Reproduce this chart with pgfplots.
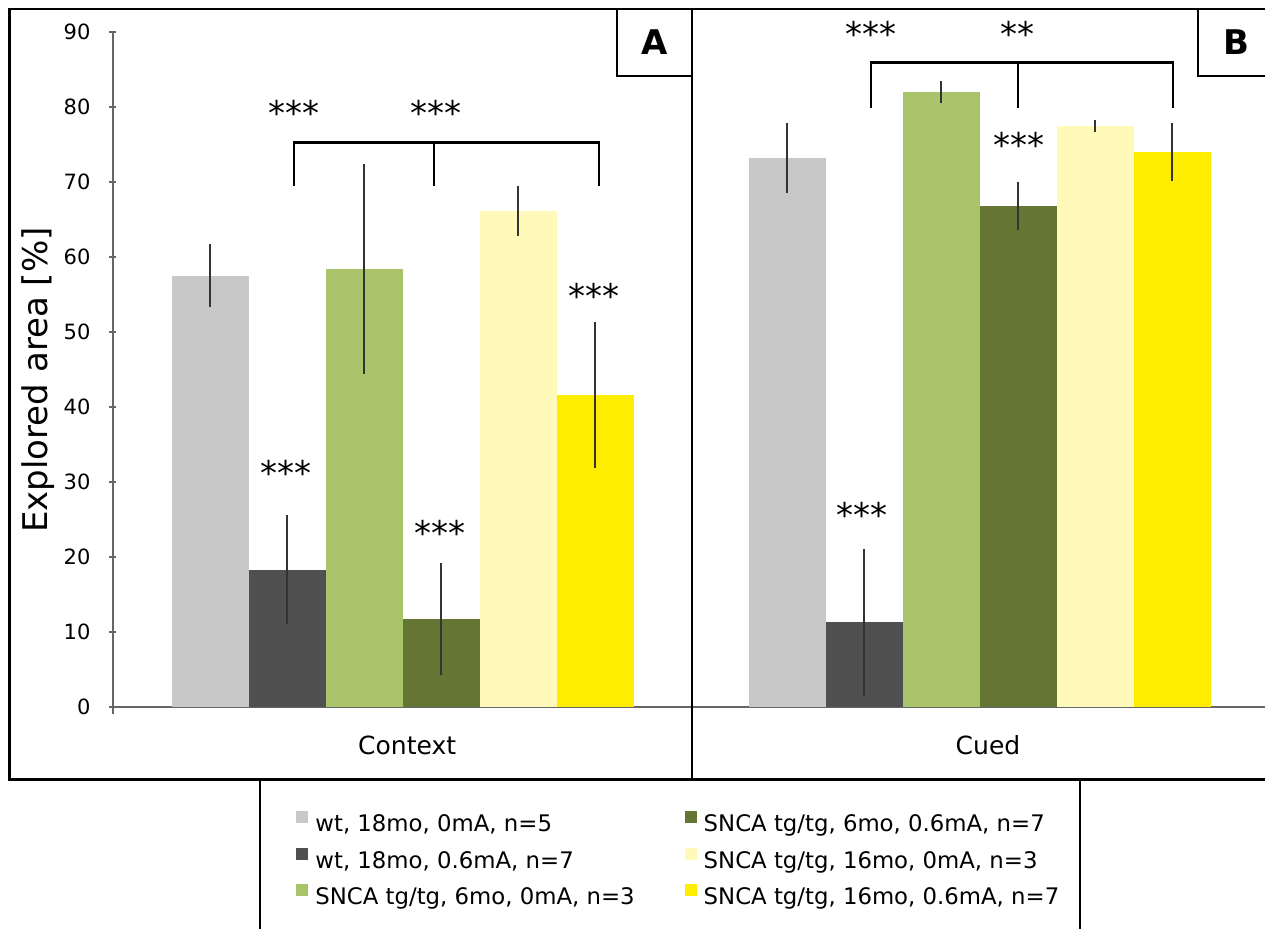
\documentclass[border=0pt]{standalone}
\usepackage{fontspec}
\setmainfont{DejaVu Sans}
\usepackage{pgfplots}
\pgfplotsset{compat=1.18}

\definecolor{wtzero}{RGB}{200,200,200}
\definecolor{wtshock}{RGB}{80,80,80}
\definecolor{sixzero}{RGB}{170,196,107}
\definecolor{sixshock}{RGB}{100,117,52}
\definecolor{sixteenzero}{RGB}{255,250,185}
\definecolor{sixteenshock}{RGB}{255,237,0}

\pgfplotsset{
  sqleg/.style={legend image code/.code={\fill[##1] (0pt,1.5pt) rectangle (6pt,7.5pt);}},
  errs/.style={error bars/.cd, y dir=both, y explicit, error mark=none,
    error bar style={draw=black!80, line width=0.6pt}},
  panel/.style={
    scale only axis, ybar=0pt, bar width=38.5pt,
    ymin=0, ymax=90, clip=false,
    axis x line=bottom,
    tick style={draw=black!60, line width=0.6pt},
    tick align=outside, major tick length=3.5pt,
    /pgf/number format/assume math mode=true,
    ticklabel style={font=\fontsize{10.5}{12}\selectfont},
    label style={font=\fontsize{12.5}{14}\selectfont},
  },
}
\tikzset{stars/.style={font=\fontsize{17}{17}\selectfont, yshift=-3.1pt, inner sep=0pt}}

\begin{document}
\begin{tikzpicture}
\useasboundingbox (0,0) rectangle (632.5pt,464.5pt);

% panel A
\begin{axis}[panel,
  at={(56.5pt,111pt)}, anchor=south west,
  width=289.5pt, height=337.5pt,
  xmin=-289.5, xmax=289.5,
  axis y line=left,
  x axis line style={-, draw=black!60, line width=0.6pt},
  y axis line style={-, draw=black!60, line width=0.6pt},
  xtick={-289.5}, xticklabels={},
  ytick={0,10,...,90},
  yticklabel style={xshift=-6pt},
  xlabel={Context},
  xlabel style={at={(axis description cs:0.508,-0.0563)}, anchor=center},
  ylabel={Explored area [\%]},
  ylabel style={at={(axis description cs:-0.1295,0.4844)}, anchor=center,
    font=\fontsize{17}{17}\selectfont},
  legend columns=3, transpose legend,
  legend cell align=left,
  legend style={draw=none, fill=none, inner sep=0pt,
    at={(axis description cs:0.3161,-0.1535)}, anchor=north west,
    font=\fontsize{11.4}{13}\selectfont,
    nodes={inner sep=1pt, text height=8.7pt, text depth=2.8pt},
    column sep=2.5pt, row sep=4pt,
    /tikz/every even column/.append style={column sep=24pt}},
]
\addplot[fill=wtzero, draw=none, sqleg, errs] coordinates {(0,57.5) +- (0,4.2)};
\addlegendentry{wt, 18mo, 0mA, n=5}
\addplot[fill=wtshock, draw=none, sqleg, errs] coordinates {(0,18.3) +- (0,7.3)};
\addlegendentry{wt, 18mo, 0.6mA, n=7}
\addplot[fill=sixzero, draw=none, sqleg, errs] coordinates {(0,58.4) +- (0,14.0)};
\addlegendentry{SNCA tg/tg, 6mo, 0mA, n=3}
\addplot[fill=sixshock, draw=none, sqleg, errs] coordinates {(0,11.7) +- (0,7.5)};
\addlegendentry{SNCA tg/tg, 6mo, 0.6mA, n=7}
\addplot[fill=sixteenzero, draw=none, sqleg, errs] coordinates {(0,66.1) +- (0,3.3)};
\addlegendentry{SNCA tg/tg, 16mo, 0mA, n=3}
\addplot[fill=sixteenshock, draw=none, sqleg, errs] coordinates {(0,41.6) +- (0,9.7)};
\addlegendentry{SNCA tg/tg, 16mo, 0.6mA, n=7}

\draw[line width=1.3pt] (axis cs:-108.5,69.4) -- (axis cs:-108.5,75.3)
  -- (axis cs:196.5,75.3) -- (axis cs:196.5,69.4);
\draw[line width=1.3pt] (axis cs:31.5,75.3) -- (axis cs:31.5,69.4);
\node[stars] at (axis cs:-108.5,80.1) {***};
\node[stars] at (axis cs:33.5,80.1) {***};
\node[stars] at (axis cs:-116.5,32.1) {***};
\node[stars] at (axis cs:37.5,24.1) {***};
\node[stars] at (axis cs:191.5,55.7) {***};
\end{axis}

% panel B
\begin{axis}[panel,
  at={(346pt,111pt)}, anchor=south west,
  width=287.5pt, height=337.5pt,
  xmin=-287.5, xmax=287.5,
  axis y line=none,
  x axis line style={-, draw=black!60, line width=0.6pt},
  xtick=\empty, ytick=\empty,
  xlabel={Cued},
  xlabel style={at={(axis description cs:0.5148,-0.0563)}, anchor=center},
]
\addplot[fill=wtzero, draw=none, errs] coordinates {(0,73.2) +- (0,4.7)};
\addplot[fill=wtshock, draw=none, errs] coordinates {(0,11.3) +- (0,9.8)};
\addplot[fill=sixzero, draw=none, errs] coordinates {(0,82.0) +- (0,1.5)};
\addplot[fill=sixshock, draw=none, errs] coordinates {(0,66.8) +- (0,3.2)};
\addplot[fill=sixteenzero, draw=none, errs] coordinates {(0,77.5) +- (0,0.8)};
\addplot[fill=sixteenshock, draw=none, errs] coordinates {(0,74.0) +- (0,3.9)};

\draw[line width=1.3pt] (axis cs:-108.5,79.9) -- (axis cs:-108.5,85.9)
  -- (axis cs:193.5,85.9) -- (axis cs:193.5,79.9);
\draw[line width=1.3pt] (axis cs:38.5,85.9) -- (axis cs:38.5,79.9);
\node[stars] at (axis cs:-108.5,90.6) {***};
\node[stars] at (axis cs:37.5,90.6) {**};
\node[stars] at (axis cs:39.5,75.8) {***};
\node[stars] at (axis cs:-117.5,26.5) {***};
\end{axis}

% frames
\draw[line width=1.4pt] (4.6pt,74.8pt) rectangle (346pt,460pt);
\draw[line width=1.4pt] (346pt,460pt) -- (640pt,460pt);
\draw[line width=1.4pt] (346pt,74.8pt) -- (640pt,74.8pt);
\draw[line width=1.4pt] (130pt,74.8pt) -- (130pt,-5pt);
\draw[line width=1.4pt] (540pt,74.8pt) -- (540pt,-5pt);
\draw[line width=1.4pt] (308.5pt,460pt) -- (308.5pt,426.5pt) -- (346pt,426.5pt);
\draw[line width=1.4pt] (599pt,460pt) -- (599pt,426.5pt) -- (640pt,426.5pt);
\node[font=\bfseries\fontsize{17}{17}\selectfont] at (327.2pt,443.2pt) {A};
\node[font=\bfseries\fontsize{17}{17}\selectfont] at (618pt,443.2pt) {B};
\end{tikzpicture}
\end{document}
